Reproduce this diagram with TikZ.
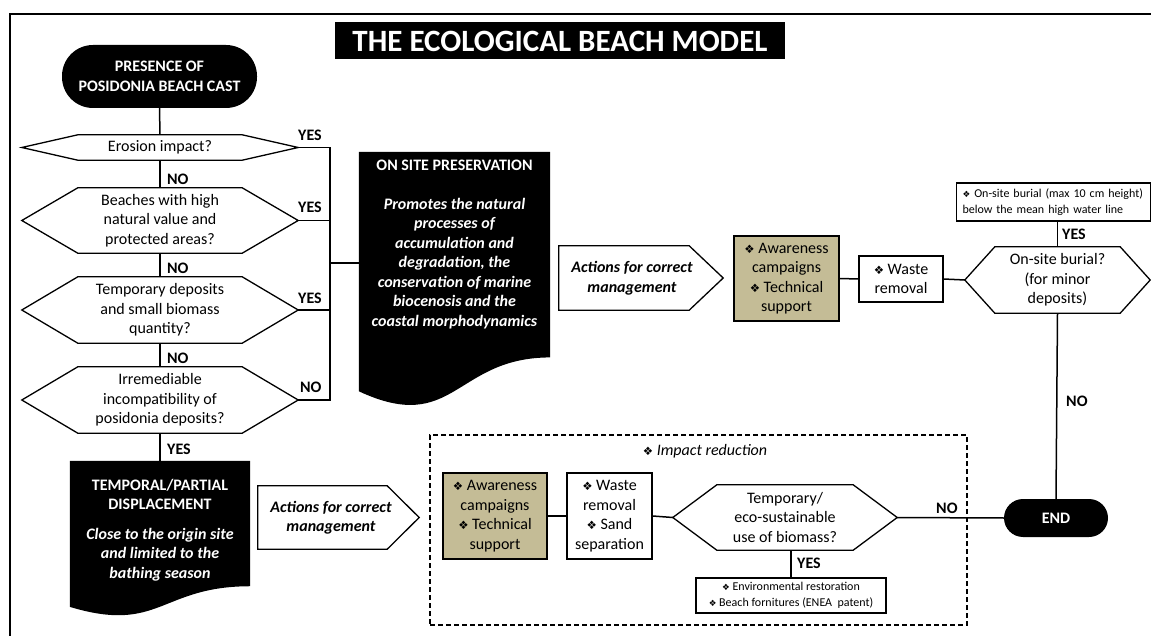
\documentclass[tikz,border=0pt]{standalone}
\usepackage{fontspec}
\setmainfont{Carlito}
\newfontfamily\dvs{DejaVu Sans}
\usetikzlibrary{calc}
\pgfdeclarelayer{background}
\pgfsetlayers{background,main}
\newcommand\dm{\scalebox{0.72}{\dvs ❖}}
\definecolor{tanfill}{RGB}{196,188,150}
\newcommand\hexshape[2]{\draw[hexline] (#1.west) -- ([xshift=#2]#1.north west) -- ([xshift=-#2]#1.north east) -- (#1.east) -- ([xshift=-#2]#1.south east) -- ([xshift=#2]#1.south west) -- cycle;}
\newcommand\docshape[1]{\begin{pgfonlayer}{background}\fill[black] (#1.north west) -- (#1.north east) -- ($(#1.north east)!0.802!(#1.south east)$) .. controls ($(#1.north)!0.802!(#1.south)$) and ($(#1.north)!1.1075!(#1.south)$) .. ($(#1.north west)!0.934!(#1.south west)$) -- cycle;\end{pgfonlayer}}
\newcommand\arrowshape[3]{\draw[hexline] (#1.north west) -- ([xshift=-#2]#1.north east) -- ([xshift=#3]#1.east) -- ([xshift=-#2]#1.south east) -- (#1.south west) -- cycle;}
\begin{document}
\begin{tikzpicture}[x=1pt,y=-1pt,
  base/.style={font=\fontsize{16}{19.5}\selectfont, align=center, inner sep=0pt},
  small/.style={font=\fontsize{12}{15.5}\selectfont, inner sep=0pt},
  hexn/.style={base},
  hexline/.style={line width=1.3pt, line join=miter},
  conn/.style={line width=1.5pt},
  box/.style={base, draw, line width=1.3pt},
  tanbox/.style={box, fill=tanfill},
  term/.style={base, fill=black, text=white, font=\bfseries\fontsize{16}{19.5}\selectfont},
  docn/.style={base, text=white},
  lbl/.style={font=\bfseries\fontsize{16}{19.5}\selectfont, inner sep=0pt, anchor=west},
  actn/.style={base, font=\bfseries\itshape\fontsize{16}{19.5}\selectfont}
]
\useasboundingbox (0,0) rectangle (1151,636);
% frame
\draw[line width=2pt] (1151,14.5) -- (10,14.5) -- (10,636);
% title
\node[fill=black, text=white, minimum width=450pt, minimum height=37pt, inner sep=0pt, font=\bfseries\fontsize{31}{35}\selectfont] (title) at (560,41) {THE ECOLOGICAL BEACH MODEL};
% start
\node[term, rounded corners=31pt, minimum width=195pt, minimum height=63pt] (start) at (159.5,76.5) {PRESENCE OF\\POSIDONIA BEACH CAST};
% decisions
\node[hexn, minimum width=276pt, minimum height=25pt] (d1) at (160,147.5) {Erosion impact?};
\node[hexn, minimum width=276pt, minimum height=65pt] (d2) at (160,220.5) {Beaches with high\\natural value and\\protected areas?};
\node[hexn, minimum width=276pt, minimum height=66pt] (d3) at (160,310) {Temporary deposits\\and small biomass\\quantity?};
\node[hexn, minimum width=276pt, minimum height=66pt] (d4) at (160,400) {Irremediable\\incompatibility of\\posidonia deposits?};
\hexshape{d1}{56}
\hexshape{d2}{56}
\hexshape{d3}{56}
\hexshape{d4}{56}
\draw[conn] (start.south) -- (d1.north);
\draw[conn] (d1.south) -- (d2.north);
\draw[conn] (d2.south) -- (d3.north);
\draw[conn] (d3.south) -- (d4.north);
\node[lbl] (n1) at (167,179) {NO};
\node[lbl] (n2) at (167,268) {NO};
\node[lbl] (n3) at (167,358) {NO};
\node[lbl] (y5) at (167,449.5) {YES};
% bus
\coordinate (bus) at (330,0);
\coordinate (bj) at (330,263);
\draw[conn] (d1.east) -- (d1.east -| bus) -- (d4.east -| bus) -- (d4.east);
\draw[conn] (d2.east) -- (d2.east -| bus);
\draw[conn] (d3.east) -- (d3.east -| bus);
\node[lbl] (y1) at (298,135) {YES};
\node[lbl] (y2) at (298,207) {YES};
\node[lbl] (y3) at (298,298) {YES};
\node[lbl] (n4) at (300,387) {NO};
% on site preservation
\node[docn, minimum width=191pt, minimum height=256pt] (onsite) at (454.5,280) {\parbox[c][240pt][t]{188pt}{\centering\bfseries ON SITE PRESERVATION\\[19.5pt]\itshape Promotes the natural\\processes of\\accumulation and\\degradation, the\\conservation of marine\\biocenosis and the\\coastal morphodynamics}};
\docshape{onsite}
\draw[conn] (bj) -- (bj -| onsite.west);
% temporal
\node[docn, minimum width=180pt, minimum height=156pt] (temp) at (160,539) {\parbox[c][120pt][t]{178pt}{\centering\bfseries TEMPORAL/PARTIAL\\DISPLACEMENT\\[10pt]\itshape Close to the origin site\\and limited to the\\bathing season}};
\docshape{temp}
\draw[conn] (d4.south) -- (temp.north);
% upper actions row
\node[actn, minimum width=146pt, minimum height=64pt] (act1) at (632,278) {Actions for correct\\management};
\arrowshape{act1}{16}{18}
\node[tanbox, minimum width=105pt, minimum height=85pt] (aw1) at (786.5,278.5) {\dm\ Awareness\\campaigns\\\dm\ Technical\\support};
\node[box, minimum width=84pt, minimum height=46pt] (w1) at (901,279) {\dm\ Waste\\removal};
\node[hexn, minimum width=185pt, minimum height=66pt] (burial) at (1057.5,280) {On-site burial?\\(for minor\\deposits)};
\hexshape{burial}{30}
\draw[conn] (aw1.east) -- (w1.west);
\draw[conn] (w1.east) -- (burial.west);
\node[small, draw, line width=1.3pt, minimum width=194pt, minimum height=38pt, text width=182pt, align=left] (note) at (1053.5,202) {\dm\ On-site burial (max 10 cm height)\\below the mean high water line};
\draw[conn] (burial.north) -- (burial.north |- note.south);
\node[lbl] (y4) at (1062,234) {YES};
% end
\node[term, rounded corners=19pt, minimum width=104pt, minimum height=38pt] (end) at (1056,518) {END};
\draw[conn] (burial.south) -- (end.north);
\node[lbl] (n5) at (1066,401) {NO};
% lower row
\node[actn, minimum width=146pt, minimum height=63pt] (act2) at (331,517.5) {Actions for correct\\management};
\arrowshape{act2}{17}{15}
\node[draw, dashed, dash pattern=on 5pt off 3pt, line width=1.5pt, minimum width=537pt, minimum height=190pt, inner sep=0pt] (grp) at (698.5,530) {};
\node[base] (imp) at (705,451) {\dm\ \textit{Impact reduction}};
\node[tanbox, minimum width=104pt, minimum height=86pt] (aw2) at (495,516) {\dm\ Awareness\\campaigns\\\dm\ Technical\\support};
\node[box, minimum width=85pt, minimum height=86pt] (w2) at (609.5,516) {\dm\ Waste\\removal\\\dm\ Sand\\separation};
\node[hexn, minimum width=224pt, minimum height=65pt] (h2) at (785,517.5) {Temporary/\\eco-sustainable\\use of biomass?};
\hexshape{h2}{44}
\draw[conn] (aw2.east) -- (w2.west);
\draw[conn] (w2.east) -- (h2.west);
\draw[conn] (h2.east) -- (end.west);
\node[lbl] (n6) at (936,508) {NO};
\node[small, draw, line width=1.3pt, minimum width=190pt, minimum height=35pt, align=center] (env) at (791,595.5) {\dm\ Environmental restoration\\\dm\ Beach fornitures (ENEA\ \ patent)};
\draw[conn] (env.north) -- (env.north |- h2.south);
\node[lbl] (y6) at (797,563) {YES};
\end{tikzpicture}
\end{document}
